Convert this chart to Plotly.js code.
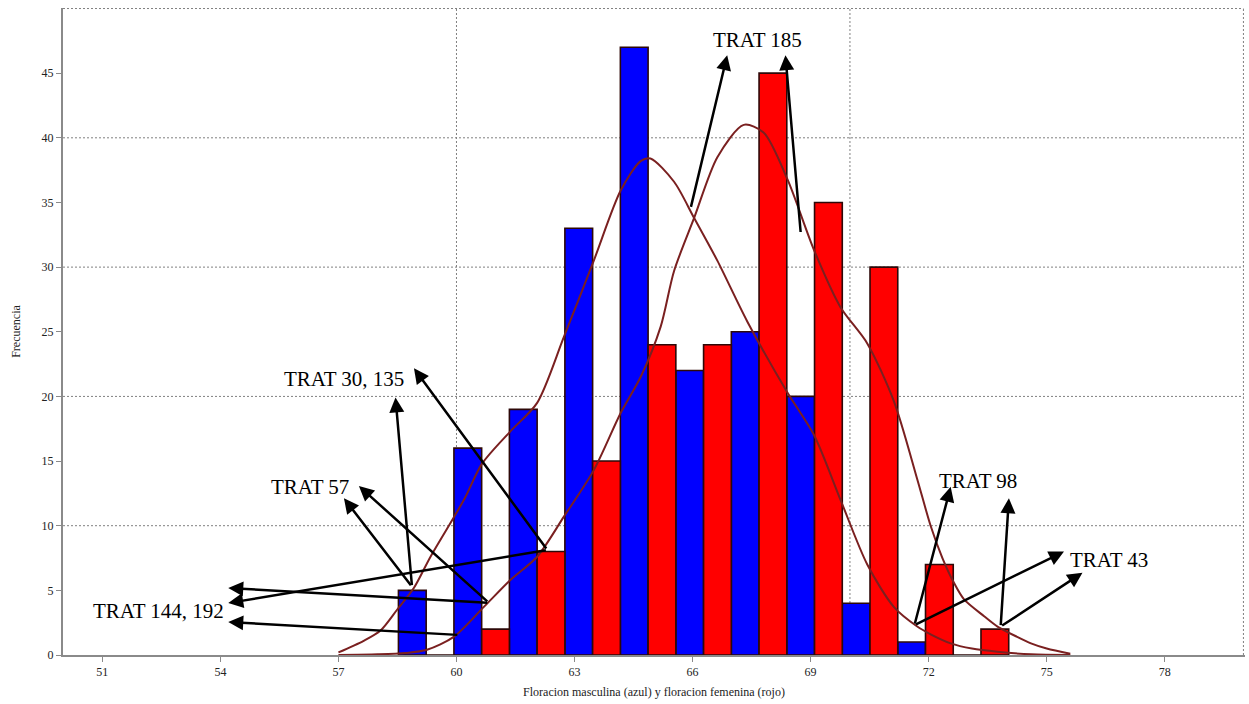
<!DOCTYPE html>
<html>
<head>
<meta charset="utf-8">
<script src="https://cdn.plot.ly/plotly-3.0.1.min.js"></script>
<style>
  html, body { margin: 0; padding: 0; background: #ffffff; }
  #chart { width: 1249px; height: 704px; }
</style>
</head>
<body>
<div id="chart"></div>
<script>
// Histogram bins (days to flowering), shared by both series
const binCenters   = [59.23, 60.64, 62.05, 63.46, 64.87, 66.28, 67.69, 69.10, 70.51, 71.92, 73.33];
const maleCounts   = [5, 16, 19, 33, 47, 22, 25, 20, 4, 1, 0];
const femaleCounts = [0, 2, 8, 15, 24, 24, 45, 35, 30, 7, 2];

// Smoothed frequency curves
const maleCurveX = [57.0, 57.64, 58.07, 58.49, 58.92, 59.34, 60.19, 60.65, 61.37, 62.05, 62.73, 63.49,
                    64.17, 64.68, 64.93, 65.53, 66.04, 66.63, 67.39, 68.41, 69.09, 69.76, 70.44, 71.12,
                    71.71, 72.05, 72.56, 73.1, 73.75, 74.6, 75.6];
const maleCurveY = [0.2, 1.1, 1.9, 3.5, 5.2, 7.6, 12.0, 14.8, 17.3, 19.5, 24.6, 30.5,
                    35.9, 38.2, 38.4, 36.6, 33.8, 30.5, 25.8, 20.3, 17.0, 12.0, 7.0, 3.7,
                    2.2, 1.6, 0.9, 0.5, 0.25, 0.05, 0];
const femaleCurveX = [57.0, 58.0, 58.7, 59.25, 59.93, 60.69, 61.37, 62.05, 62.73, 63.49, 64.17, 64.68,
                      65.19, 65.53, 66.04, 66.63, 67.3, 67.81, 68.41, 69.09, 69.76, 70.44, 71.12, 71.71,
                      72.05, 72.35, 72.64, 72.9, 73.41, 73.75, 74.25, 74.6, 75.0, 75.6];
const femaleCurveY = [0, 0.05, 0.15, 0.4, 1.4, 3.7, 5.8, 7.6, 10.7, 14.3, 18.7, 21.5,
                      25.4, 29.7, 33.8, 38.5, 41.0, 40.4, 36.8, 31.3, 26.9, 24.1, 19.6, 13.6,
                      10.0, 7.5, 5.6, 4.3, 3.0, 2.2, 1.4, 0.9, 0.5, 0.1];

// Axis tick values
const xTicks = [51, 54, 57, 60, 63, 66, 69, 72, 75, 78];
const yTicks = [0, 5, 10, 15, 20, 25, 30, 35, 40, 45];

// Treatment labels and their arrows: [headX, headY, tailX, tailY]
const labelText = ['TRAT 185', 'TRAT 30, 135', 'TRAT 57', 'TRAT 144, 192', 'TRAT 98', 'TRAT 43'];
const labelX    = [67.65, 57.14, 56.27, 52.42, 73.26, 76.59];
const labelY    = [47.55, 21.34, 12.99, 3.40, 13.45, 7.35];
const labelArrows = [
  [[66.88, 46.39, 65.95, 34.54], [68.36, 46.39, 68.75, 32.6]],
  [[58.45, 19.92, 58.87, 5.28], [58.92, 22.17, 62.31, 8.12]],
  [[57.14, 12.12, 58.87, 5.28], [57.52, 13.07, 60.82, 4.04]],
  [[54.20, 5.18, 60.82, 4.04], [54.20, 4.02, 62.31, 8.12], [54.20, 2.55, 60.06, 1.55]],
  [[72.56, 13.01, 71.64, 2.32], [74.04, 12.12, 73.83, 2.2]],
  [[75.44, 8.0, 71.64, 2.32], [75.91, 6.36, 73.83, 2.2]]
];

// Dotted reference grid
const gridX = [60, 70, 80];
const gridY = [10, 20, 30, 40, 50];

const serif = "'Liberation Serif', 'Times New Roman', Times, serif";
const barOutline = { color: 'rgb(45,8,8)', width: 1.6 };
const curveColor = 'rgb(122,32,32)';

const traces = [
  { type: 'bar', x: binCenters, y: maleCounts, name: 'Masculina',
    marker: { color: '#0000ff', line: barOutline }, hoverinfo: 'x+y' },
  { type: 'bar', x: binCenters, y: femaleCounts, name: 'Femenina',
    marker: { color: '#ff0000', line: barOutline }, hoverinfo: 'x+y' },
  { type: 'scatter', mode: 'lines', x: maleCurveX, y: maleCurveY,
    line: { color: curveColor, width: 2, shape: 'spline', smoothing: 0.8 }, hoverinfo: 'skip' },
  { type: 'scatter', mode: 'lines', x: femaleCurveX, y: femaleCurveY,
    line: { color: curveColor, width: 2, shape: 'spline', smoothing: 0.8 }, hoverinfo: 'skip' }
];

const gridStyle = { color: '#808080', width: 1, dash: '2px,2px' };
const shapes = [];
gridX.forEach(v => shapes.push({ type: 'line', layer: 'below', xref: 'x', yref: 'y',
  x0: v, x1: v, y0: 0, y1: 50, line: gridStyle }));
gridY.forEach(v => shapes.push({ type: 'line', layer: 'below', xref: 'x', yref: 'y',
  x0: 50, x1: 80, y0: v, y1: v, line: gridStyle }));

const annotations = [];
labelText.forEach((t, i) => {
  annotations.push({ x: labelX[i], y: labelY[i], xref: 'x', yref: 'y', text: t, showarrow: false,
    xanchor: 'center', yanchor: 'middle', font: { family: serif, size: 21, color: '#000' } });
  labelArrows[i].forEach(a => {
    annotations.push({ x: a[0], y: a[1], ax: a[2], ay: a[3], xref: 'x', yref: 'y',
      axref: 'x', ayref: 'y', text: '', showarrow: true, arrowhead: 2, arrowsize: 1.2,
      arrowwidth: 2.5, arrowcolor: '#000', standoff: 0, startstandoff: 0 });
  });
});

const layout = {
  width: 1249, height: 704,
  margin: { l: 63, r: 4, t: 8, b: 49 },
  paper_bgcolor: '#ffffff', plot_bgcolor: '#ffffff',
  showlegend: false,
  barmode: 'group', bargap: 0, bargroupgap: 0,
  font: { family: serif, size: 12, color: '#222' },
  xaxis: {
    range: [50, 80.04], tickmode: 'array', tickvals: xTicks, showgrid: false, zeroline: false,
    showline: true, linecolor: '#8a8a8a', linewidth: 2,
    ticks: 'outside', ticklen: 5, tickcolor: '#8a8a8a', tickwidth: 1,
    tickfont: { family: serif, size: 12, color: '#222' },
    title: { text: 'Floracion masculina (azul) y floracion femenina (rojo)',
             font: { family: serif, size: 12, color: '#222' }, standoff: 9 }
  },
  yaxis: {
    range: [0, 50.04], tickmode: 'array', tickvals: yTicks, showgrid: false, zeroline: false,
    showline: true, linecolor: '#8a8a8a', linewidth: 2,
    ticks: 'outside', ticklen: 5, tickcolor: '#8a8a8a', tickwidth: 1,
    tickfont: { family: serif, size: 12, color: '#222' },
    title: { text: 'Frecuencia', font: { family: serif, size: 12, color: '#222' }, standoff: 18 }
  },
  shapes: shapes,
  annotations: annotations
};

Plotly.newPlot('chart', traces, layout, { displayModeBar: false, staticPlot: true });
</script>
</body>
</html>
